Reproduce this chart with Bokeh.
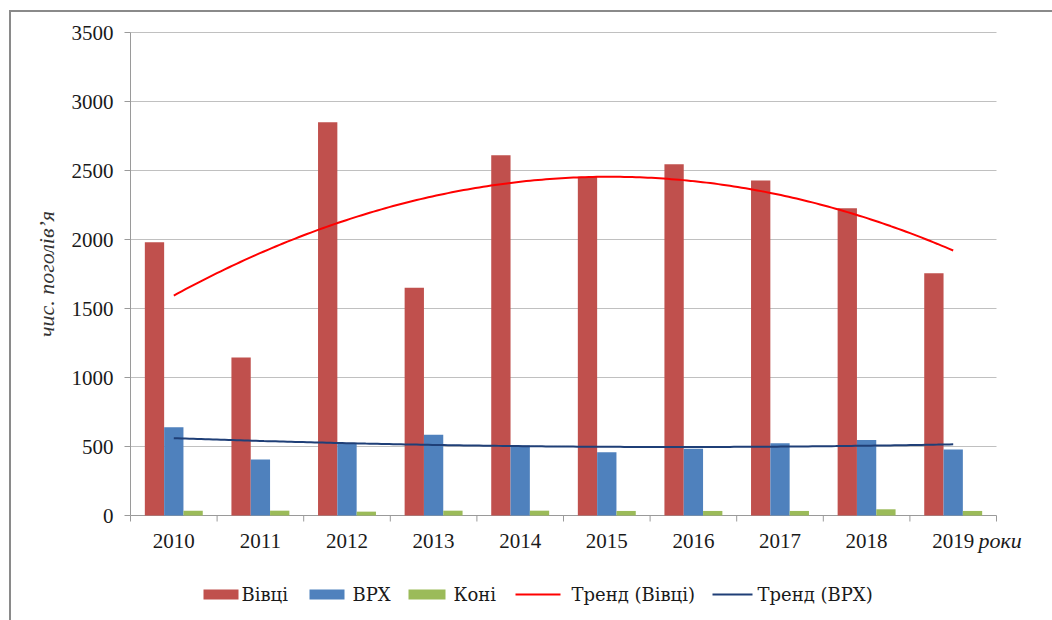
import numpy as np
from bokeh.plotting import figure
from bokeh.models import Range1d, ColumnDataSource
from bokeh.core.properties import value
from bokeh.embed import file_html
from bokeh.resources import INLINE

years = ["2010", "2011", "2012", "2013", "2014", "2015", "2016", "2017", "2018", "2019"]
sheep = [1980, 1145, 2850, 1650, 2611, 2455, 2545, 2428, 2227, 1756]
cattle = [640, 406, 524, 585, 507, 459, 483, 524, 548, 478]
horses = [35, 35, 28, 35, 35, 33, 33, 33, 45, 33]
y_ticks = [0, 500, 1000, 1500, 2000, 2500, 3000, 3500]
x_title = "роки"
y_title = "чис. поголів’я"

series_names = ["Вівці", "ВРХ", "Коні"]
trend_names = ["Тренд (Вівці)", "Тренд (ВРХ)"]

RED = "#c0504d"
BLUE = "#4f81bd"
GREEN = "#9bbb59"
TREND_RED = "#ff0000"
TREND_BLUE = "#1f3f77"
GRID = "#c0c0c0"
AXIS = "#9a9a9a"
TXT = "#1a1a1a"
SERIF = "Liberation Serif"
SERIF_CYR = "DejaVu Serif"

n = len(years)
idx = np.arange(n)
centers = idx + 0.5
bw = 0.223
ymax = y_ticks[-1]

# layout: 866 px for the categories, 483 px for 0..3500
upx = n / 866.0
upy = ymax / 483.0
FW, FH = 1041, 608
LEFT_PX, TOP_PX = 119, 20          # plot area offset inside the canvas
x_range = Range1d(-LEFT_PX * upx, (FW - LEFT_PX) * upx)
y_range = Range1d(ymax + TOP_PX * upy - FH * upy, ymax + TOP_PX * upy)

p = figure(output_backend="svg", toolbar_location=None,
           frame_width=FW, frame_height=FH,
           min_border_left=0, min_border_top=0, min_border_right=0,
           min_border_bottom=0, x_axis_location=None, y_axis_location=None,
           x_range=x_range, y_range=y_range)
p.styles = {"margin-left": "9px", "margin-top": "10px",
            "border-left": "2px solid #8a8a8a", "border-top": "2px solid #8a8a8a"}
p.outline_line_color = None
p.background_fill_color = "white"
p.border_fill_color = "white"
p.xgrid.visible = False
p.ygrid.visible = False

# gridlines, axes and ticks
p.segment(x0=0, x1=n, y0=y_ticks[1:], y1=y_ticks[1:], line_color=GRID, line_width=1)
p.segment(x0=0, x1=n, y0=0, y1=0, line_color=AXIS, line_width=1)
p.segment(x0=0, x1=0, y0=0, y1=ymax, line_color=AXIS, line_width=1)
bounds = list(range(n + 1))
p.segment(x0=bounds, x1=bounds, y0=[0] * len(bounds), y1=[-6 * upy] * len(bounds),
          line_color=AXIS, line_width=1)
p.segment(x0=[-6 * upx] * len(y_ticks), x1=[0] * len(y_ticks), y0=y_ticks, y1=y_ticks,
          line_color=AXIS, line_width=1)

src = ColumnDataSource(dict(xr=centers - bw, xb=centers, xg=centers + bw,
                            sheep=sheep, cattle=cattle, horses=horses))
p.vbar(x="xr", top="sheep", width=bw, source=src, fill_color=RED, line_color=None)
p.vbar(x="xb", top="cattle", width=bw, source=src, fill_color=BLUE, line_color=None)
p.vbar(x="xg", top="horses", width=bw, source=src, fill_color=GREEN, line_color=None)

# polynomial (order 2) trend lines fitted to the data
xf = np.linspace(0, n - 1, 200)
cs = np.polyfit(idx, sheep, 2)
cc = np.polyfit(idx, cattle, 2)
p.line(xf + 0.5, np.polyval(cs, xf), line_color=TREND_RED, line_width=2)
p.line(xf + 0.5, np.polyval(cc, xf), line_color=TREND_BLUE, line_width=2)

# tick labels and titles
p.text(x=centers, y=[-25 * upy] * n, text=years, text_align="center",
       text_baseline="middle", text_font=value(SERIF), text_font_size="21px",
       text_color=TXT)
p.text(x=[n], y=[-25 * upy], text=[x_title], x_offset=-18, text_align="left",
       text_baseline="middle", text_font=value(SERIF), text_font_style="italic",
       text_font_size="22px", text_color=TXT)
p.text(x=[-17 * upx] * len(y_ticks), y=y_ticks, text=[str(t) for t in y_ticks],
       text_align="right", text_baseline="middle", text_font=value(SERIF),
       text_font_size="21px", text_color=TXT)
p.text(x=[-84 * upx], y=[ymax / 2], text=[y_title], angle=np.pi / 2,
       text_align="center", text_baseline="middle", text_font=value(SERIF),
       text_font_style="italic", text_font_size="22px", text_color="#333333")

# legend (drawn below the plot area); layout in pixels from the plot's left edge
def px_x(px):
    return (px - 130) * upx

leg_y = -79 * upy
box_left = [73, 179, 278]
box_w = [35, 35, 37]
p.quad(left=[px_x(130 + b) for b in box_left],
       right=[px_x(130 + b + w) for b, w in zip(box_left, box_w)],
       bottom=[leg_y - 5 * upy] * 3, top=[leg_y + 5 * upy] * 3,
       fill_color=[RED, BLUE, GREEN], line_color=None)
line_left = [385, 582]
line_w = [45, 40]
p.segment(x0=[px_x(130 + b) for b in line_left],
          x1=[px_x(130 + b + w) for b, w in zip(line_left, line_w)],
          y0=[leg_y] * 2, y1=[leg_y] * 2,
          line_color=[TREND_RED, TREND_BLUE], line_width=2)
text_left = [111, 222, 323, 441, 627]
p.text(x=[px_x(130 + t) for t in text_left], y=[leg_y] * 5,
       text=series_names + trend_names, text_align="left", text_baseline="middle",
       text_font=value(SERIF_CYR), text_font_size="18px", text_color=TXT)

open("out.html", "w").write(file_html(p, INLINE))
